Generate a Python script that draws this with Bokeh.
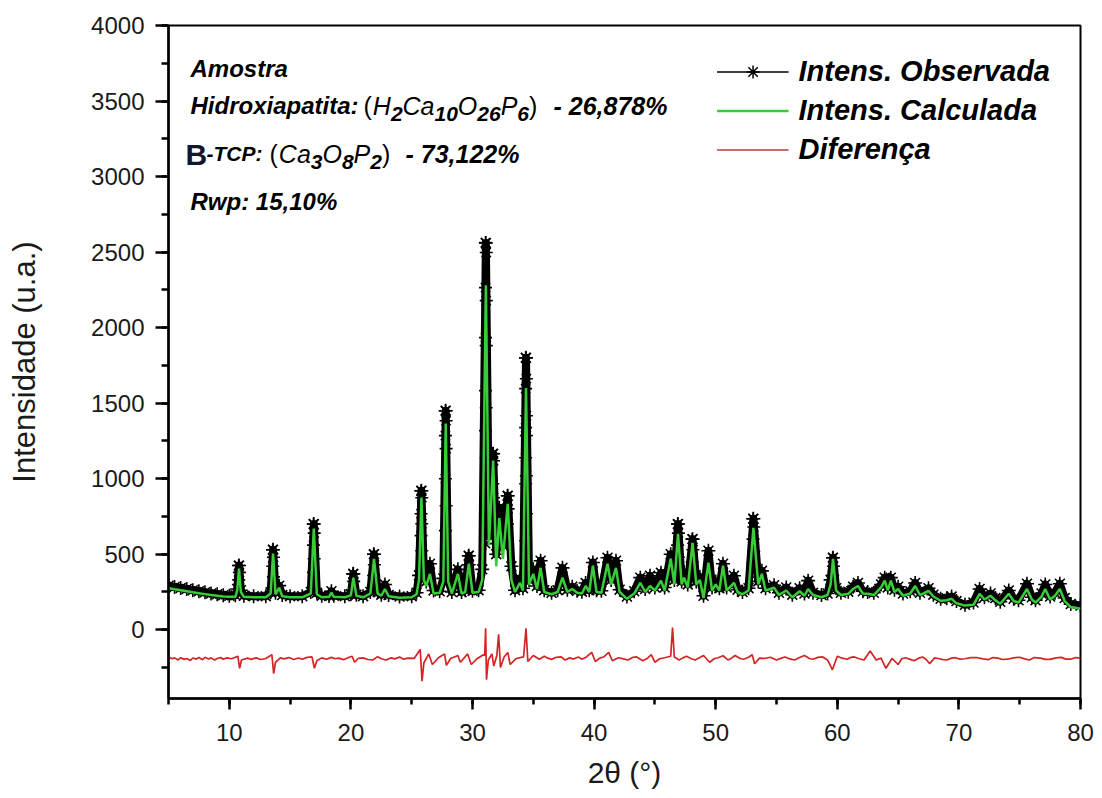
from bokeh.plotting import figure
from bokeh.models import (Range1d, SingleIntervalTicker, Label, Legend, LegendItem,
                          ColumnDataSource)
from bokeh.embed import file_html
from bokeh.resources import INLINE

# ---------------- data ----------------
two_theta = [5.0, 5.5, 6.0, 6.5, 7.0, 7.5, 8.0, 8.5, 9.0, 9.5, 10.0, 10.5, 10.65, 10.8, 10.95,
             11.2, 12.0, 13.0, 13.4, 13.6, 13.8, 14.1, 14.35, 15.0, 16.0, 16.7, 16.95, 17.2,
             17.6, 18.2, 18.4, 18.6, 19.5, 20.0, 20.2, 20.45, 21.0, 21.6, 21.9, 22.2, 22.5,
             22.8, 23.1, 24.0, 25.0, 25.4, 25.6, 25.8, 26.0, 26.2, 26.5, 26.8, 27.3, 27.6,
             27.8, 28.0, 28.3, 28.8, 29.1, 29.4, 29.7, 30.0, 30.5, 30.8, 31.1, 31.35, 31.7,
             31.95, 32.2, 32.5, 32.9, 33.2, 33.5, 33.9, 34.15, 34.4, 34.65, 35.0, 35.3, 35.6,
             35.9, 36.5, 37.0, 37.4, 37.8, 38.2, 38.6, 39.0, 39.3, 39.6, 39.9, 40.2, 40.6,
             41.1, 41.4, 41.8, 42.1, 42.7, 43.3, 43.8, 44.2, 44.6, 45.0, 45.5, 45.8, 46.3,
             46.6, 46.9, 47.2, 47.4, 47.7, 48.1, 48.4, 48.7, 49.0, 49.4, 49.7, 50.0, 50.3,
             50.6, 50.9, 51.5, 51.8, 52.2, 52.7, 53.1, 53.5, 53.8, 54.1, 54.8, 55.2, 55.8,
             56.3, 56.9, 57.3, 57.6, 58.0, 58.7, 59.2, 59.45, 59.65, 59.9, 60.3, 60.9, 61.3,
             61.7, 62.1, 62.5, 63.0, 63.6, 63.9, 64.15, 64.4, 64.7, 65.0, 65.4, 66.0, 66.4,
             66.8, 67.5, 67.9, 68.5, 69.0, 69.4, 69.8, 70.5, 71.2, 71.7, 72.1, 72.6, 73.0,
             73.4, 74.1, 74.5, 74.9, 75.6, 76.0, 76.3, 76.8, 77.1, 77.5, 77.9, 78.3, 78.7,
             79.2, 80.0]

intens_calc = [275, 268, 262, 255, 248, 242, 236, 230, 225, 220, 218, 218, 260, 405, 250,
               218, 215, 215, 240, 505, 235, 278, 222, 215, 215, 240, 670, 235,
               215, 218, 245, 218, 215, 228, 345, 225, 215, 240, 470, 240, 225,
               270, 222, 212, 215, 235, 330, 875, 330, 290, 370, 240, 245, 320,
               1365, 320, 240, 370, 240, 250, 437, 245, 250, 330, 2280, 560, 1120,
               420, 740, 470, 834, 330, 250, 310, 260, 1600, 300, 370, 270, 410,
               250, 235, 250, 345, 250, 270, 245, 240, 290, 250, 424, 250, 245,
               437, 300, 410, 250, 205, 240, 311, 250, 290, 260, 325, 260, 470,
               300, 635, 300, 345, 280, 576, 300, 330, 210, 444, 260, 300, 260,
               424, 260, 311, 250, 235, 260, 675, 300, 370, 260, 278, 230, 260,
               215, 255, 225, 270, 230, 215, 230, 300, 470, 260, 230, 238, 270,
               290, 240, 238, 230, 280, 325, 260, 325, 250, 270, 225, 240, 290,
               230, 258, 220, 192, 195, 205, 175, 160, 165, 238, 200, 225, 195,
               172, 238, 190, 180, 270, 200, 180, 220, 270, 200, 225, 270, 190,
               150, 140]

intens_obs = [292, 283, 276, 270, 262, 255, 248, 240, 235, 228, 225, 228, 270, 425, 262,
              225, 222, 222, 248, 530, 245, 292, 230, 222, 222, 250, 700, 245,
              225, 224, 255, 225, 222, 235, 370, 232, 222, 250, 500, 250, 232,
              300, 230, 220, 222, 245, 360, 920, 360, 320, 437, 260, 255, 340,
              1450, 330, 250, 400, 250, 262, 490, 258, 262, 400, 2560, 620, 1165,
              500, 808, 560, 887, 420, 262, 340, 275, 1800, 330, 400, 290, 457,
              262, 245, 262, 410, 265, 285, 258, 252, 310, 262, 445, 262, 258,
              477, 330, 457, 265, 220, 255, 345, 270, 358, 280, 377, 280, 500,
              330, 700, 320, 380, 300, 600, 320, 350, 225, 523, 280, 320, 275,
              437, 280, 358, 265, 250, 275, 735, 320, 390, 275, 295, 245, 280,
              232, 275, 240, 325, 245, 230, 240, 330, 477, 275, 245, 252, 285,
              310, 255, 250, 245, 300, 345, 280, 345, 265, 285, 240, 255, 310,
              245, 275, 232, 205, 208, 220, 190, 165, 180, 270, 215, 240, 210,
              185, 260, 205, 195, 305, 215, 195, 240, 300, 220, 245, 305, 210,
              170, 160]

# observed points read along the flanks of the strongest reflections
flank_2theta = [31.07, 31.13, 31.07, 31.13, 31.07, 31.13, 31.07, 31.13, 31.07, 31.13, 31.07, 31.13, 31.07,
                34.37, 34.43, 34.37, 34.43, 34.37, 34.43, 34.37, 34.43, 34.37, 34.43, 34.37,
                27.77, 27.83, 27.77, 27.83, 27.77, 27.83, 27.77,
                25.77, 25.83, 25.77, 25.83, 25.77, 25.83,
                31.67, 31.73, 31.67, 31.73, 31.67,
                16.92, 16.98, 16.92, 16.98, 16.92,
                13.57, 13.63, 13.57, 13.63,
                10.77, 10.83, 10.77,
                21.87, 21.93, 21.87,
                20.17, 20.23,
                46.87, 46.93, 46.87, 46.93,
                53.07, 53.13, 53.07, 53.13, 53.07,
                59.62, 59.68, 59.62,
                48.07, 48.13, 48.07,
                32.87, 32.93, 32.87,
                29.67, 29.73]
flank_obs = [2563, 2497, 2265, 2179, 1934, 1881, 1583, 1470, 1318, 1139, 834, 702, 570,
             1801, 1662, 1596, 1417, 1338, 1285, 1139, 1020, 967, 768, 589,
             1450, 1384, 1285, 1199, 1000, 821, 656,
             920, 874, 768, 702, 623, 523,
             1166, 1119, 967, 874, 702,
             700, 640, 560, 470, 380,
             530, 480, 420, 350,
             425, 380, 330,
             500, 430, 360,
             370, 320,
             700, 640, 560, 480,
             735, 680, 600, 520, 440,
             477, 420, 360,
             600, 530, 450,
             887, 800, 700,
             490, 430]

diff_2theta = [5.0, 5.3, 5.5, 5.8, 6.0, 6.3, 6.5, 6.8, 7.0, 7.3, 7.5, 7.8, 8.0, 8.3, 8.5,
               8.8, 9.0, 9.3, 9.5, 9.8, 10.2, 10.7, 10.85, 11.0, 11.5, 11.8, 12.2, 12.6,
               13.0, 13.5, 13.65, 13.8, 14.2, 14.5, 14.9, 15.3, 15.7, 16.0, 16.4, 16.8, 17.0,
               17.2, 17.6, 18.0, 18.4, 18.7, 19.0, 19.4, 19.8, 20.1, 20.3, 20.6, 21.0, 21.4,
               21.8, 22.2, 22.5, 22.9, 23.3, 23.6, 24.0, 24.3, 24.7, 25.2, 25.7, 25.85, 26.0,
               26.4, 26.7, 27.2, 27.7, 27.85, 28.2, 28.8, 29.0, 29.6, 29.9, 30.4, 30.9, 31.0,
               31.08, 31.15, 31.3, 31.6, 31.75, 32.0, 32.15, 32.3, 32.6, 32.9, 33.1, 33.6,
               34.2, 34.4, 34.55, 35.0, 35.5, 35.9, 36.2, 36.5, 36.9, 37.3, 37.6, 38.0, 38.3,
               38.7, 39.0, 39.4, 39.8, 40.1, 40.5, 40.8, 41.2, 41.5, 42.0, 42.4, 42.8, 43.2,
               43.5, 44.0, 44.4, 44.7, 45.0, 45.4, 45.8, 46.3, 46.45, 46.6, 47.0, 47.3, 47.6,
               48.0, 48.3, 48.7, 49.0, 49.5, 49.9, 50.2, 50.6, 51.0, 51.3, 51.6, 52.0, 52.3,
               52.7, 53.0, 53.2, 53.6, 54.0, 54.5, 55.0, 55.4, 55.7, 56.1, 56.5, 56.9, 57.3,
               57.7, 58.0, 58.4, 58.8, 59.2, 59.6, 60.0, 60.4, 60.8, 61.1, 61.4, 61.8, 62.2,
               62.7, 63.2, 63.6, 64.0, 64.5, 65.0, 65.3, 65.6, 66.0, 66.3, 66.7, 67.0, 67.3,
               67.6, 68.0, 68.3, 68.7, 69.0, 69.4, 69.7, 70.1, 70.5, 71.0, 71.5, 72.0, 72.4,
               72.8, 73.2, 73.6, 74.0, 74.5, 75.0, 75.4, 75.8, 76.2, 76.7, 77.1, 77.5, 78.0,
               78.4, 78.8, 79.2, 79.6, 80.0]
intens_diff = [-180, -192, -186, -200, -185, -196, -190, -203, -187, -194, -183, -198, -182, -193, -186,
               -200, -190, -184, -195, -186, -192, -175, -255, -200, -188, -196, -186, -197,
               -190, -165, -290, -215, -186, -193, -184, -197, -187, -195, -183, -180, -255,
               -205, -186, -195, -183, -192, -188, -198, -184, -175, -215, -190, -186, -197,
               -200, -178, -192, -200, -186, -193, -181, -194, -188, -190, -130, -340, -220,
               -160, -230, -185, -160, -235, -190, -170, -215, -160, -230, -190, -165, -170,
               10, -330, -200, -160, -240, -170, -30, -250, -180, -150, -230, -190,
               -180, 10, -210, -170, -195, -175, -188, -196, -182, -180, -200, -186, -194,
               -180, -195, -178, -150, -210, -186, -180, -150, -205, -185, -193, -200, -182,
               -180, -205, -188, -165, -215, -192, -185, -175, 15, -180, -200, -186, -175,
               -192, -200, -184, -170, -215, -190, -185, -172, -200, -188, -170, -190, -195,
               -182, -165, -225, -188, -190, -182, -200, -188, -180, -193, -200, -184, -170,
               -190, -195, -183, -180, -200, -265, -175, -188, -195, -183, -180, -192, -200,
               -140, -200, -188, -255, -190, -230, -192, -185, -196, -205, -188, -180, -195,
               -225, -186, -190, -198, -200, -188, -185, -194, -192, -185, -185, -193, -198,
               -184, -188, -197, -195, -186, -182, -193, -200, -184, -188, -196, -196, -186,
               -183, -194, -195, -184, -188]

x_ticks_interval = 10
y_ticks_interval = 500
legend_labels = ["Intens. Observada", "Intens. Calculada", "Diferença"]

# ---------------- layout constants ----------------
W, H = 1102, 798
FL, FR, FT, FB = 168, 1080, 25, 698
X0, X1, Y0, Y1 = 5, 80, -455, 4000
FONT = "Liberation Sans"
GREEN = "#38cd38"
RED = "#d42424"
NAN = float("nan")

p = figure(width=W, height=H, output_backend="svg", toolbar_location=None,
           x_range=Range1d(X0, X1), y_range=Range1d(Y0, Y1),
           min_border_left=FL, min_border_right=W - FR,
           min_border_top=FT, min_border_bottom=H - FB)
p.grid.visible = False
p.outline_line_color = "black"
p.outline_line_width = 2
p.background_fill_color = "white"
p.border_fill_color = "white"

p.xaxis.ticker = SingleIntervalTicker(interval=x_ticks_interval, num_minor_ticks=2)
p.yaxis.ticker = SingleIntervalTicker(interval=y_ticks_interval, num_minor_ticks=2)
for ax in (p.xaxis[0], p.yaxis[0]):
    ax.axis_line_width = 2.5
    ax.axis_line_color = "black"
    ax.major_tick_line_width = 2.5
    ax.minor_tick_line_width = 2.5
    ax.major_tick_in = 0
    ax.minor_tick_in = 0
    ax.major_label_text_font = FONT
    ax.major_label_text_font_size = "24px"
    ax.major_label_text_color = "#1a1a1a"
    ax.axis_label_text_font = FONT
    ax.axis_label_text_font_style = "normal"
    ax.axis_label_text_color = "#1a1a1a"
p.xaxis.major_tick_out = 11
p.xaxis.minor_tick_out = 6
p.yaxis.major_tick_out = 13
p.yaxis.minor_tick_out = 7
p.xaxis.major_label_standoff = 14
p.yaxis.major_label_standoff = 11
p.xaxis.axis_label = "2θ (°)"
p.yaxis.axis_label = "Intensidade (u.a.)"
p.xaxis.axis_label_text_font_size = "30px"
p.yaxis.axis_label_text_font_size = "31px"
p.xaxis.axis_label_standoff = 12
p.yaxis.axis_label_standoff = 46

src = ColumnDataSource(dict(t=two_theta, calc=intens_calc, obs=intens_obs))
p.line("t", "obs", source=src, line_color="black", line_width=8, line_join="round")
p.scatter("t", "obs", source=src, marker="asterisk", size=14, line_color="black", line_width=1.6)
p.scatter(flank_2theta, flank_obs, marker="asterisk", size=13, line_color="black", line_width=1.6)
p.line("t", "calc", source=src, line_color=GREEN, line_width=2.5)
p.line(diff_2theta, intens_diff, line_color=RED, line_width=1.7)

# legend-only renderers (thin sample lines like the reference legend)
lg_obs_line = p.line([NAN], [NAN], line_color="black", line_width=1.5)
lg_obs_star = p.scatter([NAN], [NAN], marker="asterisk", size=12, line_color="black", line_width=1.5)
lg_calc = p.line([NAN], [NAN], line_color=GREEN, line_width=2.5)
lg_diff = p.line([NAN], [NAN], line_color="#b83a3a", line_width=1.5)
legend = Legend(items=[LegendItem(label=legend_labels[0], renderers=[lg_obs_line, lg_obs_star]),
                       LegendItem(label=legend_labels[1], renderers=[lg_calc]),
                       LegendItem(label=legend_labels[2], renderers=[lg_diff])],
                location="top_right", margin=11, padding=19, spacing=6,
                glyph_width=72, glyph_height=33, label_standoff=10,
                label_text_font=FONT, label_text_font_size="29px",
                label_text_font_style="bold italic", label_text_color="black",
                border_line_alpha=0, background_fill_alpha=0)
p.add_layout(legend)

# ---------------- annotation text (with manual subscripts) ----------------
W_REG = {' ': 278, '(': 333, ')': 333, '-': 333, ',': 278, '.': 278, ':': 278, '%': 889,
         'A': 667, 'B': 667, 'C': 722, 'H': 722, 'O': 778, 'P': 667, 'R': 722, 'T': 611,
         'a': 556, 'c': 500, 'd': 556, 'e': 556, 'i': 222, 'm': 833, 'n': 556, 'o': 556,
         'p': 556, 'r': 333, 's': 500, 't': 278, 'w': 722, 'x': 500}
W_BOLD = {' ': 278, '(': 333, ')': 333, '-': 333, ',': 278, '.': 278, ':': 333, '%': 889,
          'A': 722, 'B': 722, 'C': 722, 'H': 722, 'O': 778, 'P': 667, 'R': 722, 'T': 611,
          'a': 556, 'c': 556, 'd': 611, 'e': 556, 'i': 278, 'm': 889, 'n': 611, 'o': 611,
          'p': 611, 'r': 389, 's': 556, 't': 333, 'w': 778, 'x': 556}
for d in "0123456789":
    W_REG[d] = 556
    W_BOLD[d] = 556


def text_width(s, size, bold):
    table = W_BOLD if bold else W_REG
    return sum(table.get(c, 556) for c in s) * size / 1000.0


def dx(px):
    return X0 + (px - FL) / (FR - FL) * (X1 - X0)


def dy(py):
    return Y1 - (py - FT) / (FB - FT) * (Y1 - Y0)


def put(s, px, py, size, style, color="black"):
    p.add_layout(Label(x=dx(px), y=dy(py), text=s, text_font=FONT,
                       text_font_size=f"{size}px", text_font_style=style,
                       text_color=color, text_baseline="alphabetic", text_align="left"))
    return px + text_width(s, size, "bold" in style)


def formula(runs, px, py):
    for s, kind in runs:
        if kind == "s":
            px = put(s, px, py + 8, 21, "bold italic")
        elif s in "()":
            px = put(s, px, py, 25, "normal") + 1
        else:
            px = put(s, px, py, 25, "italic")
    return px


hap_runs = [("(", "n"), ("H", "n"), ("2", "s"), ("Ca", "n"), ("10", "s"), ("O", "n"),
            ("26", "s"), ("P", "n"), ("6", "s"), (")", "n")]
tcp_runs = [("(", "n"), ("Ca", "n"), ("3", "s"), ("O", "n"), ("8", "s"), ("P", "n"),
            ("2", "s"), (")", "n")]

put("Amostra", 190, 68, 24, "bold italic")
put("Hidroxiapatita:", 190, 105, 24, "bold italic")
formula(hap_runs, 363, 105)
put("- 26,878%", 553, 105, 25, "bold italic")
put("B", 185, 154, 30, "bold", "#15152e")
put("-TCP:", 206, 153, 21, "bold italic")
formula(tcp_runs, 269, 153)
put("- 73,122%", 405, 153, 25, "bold italic")
put("Rwp: 15,10%", 190, 201, 24, "bold italic")

open("out.html", "w").write(file_html(p, INLINE))
